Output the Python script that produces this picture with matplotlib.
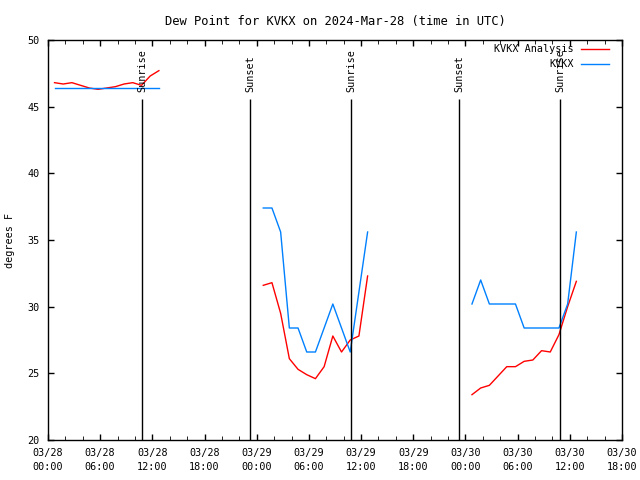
import matplotlib
matplotlib.use('Agg')
import matplotlib.pyplot as plt
import matplotlib.dates as mdates
from datetime import datetime, timedelta

# Start of each analysis/observation block (UTC), hourly values after that
seg_starts = ['2024-03-28 00:45', '2024-03-29 00:45', '2024-03-30 00:45']

# KVKX Analysis dew point (F)
analysis = [
    [46.8, 46.7, 46.8, 46.6, 46.4, 46.3, 46.4, 46.5, 46.7, 46.8, 46.6, 47.3, 47.7],
    [31.6, 31.8, 29.5, 26.1, 25.3, 24.9, 24.6, 25.5, 27.8, 26.6, 27.5, 27.8, 32.3],
    [23.4, 23.9, 24.1, 24.8, 25.5, 25.5, 25.9, 26.0, 26.7, 26.6, 27.9, 30.0, 31.9],
]

# KVKX observed dew point (F); None = no ob that hour
observed = [
    [46.4, 46.4, 46.4, 46.4, 46.4, 46.4, 46.4, 46.4, 46.4, 46.4, 46.4, 46.4, 46.4],
    [37.4, 37.4, 35.6, 28.4, 28.4, 26.6, 26.6, 28.4, 30.2, 28.4, 26.6, None, 35.6],
    [30.2, 32.0, 30.2, 30.2, 30.2, 30.2, 28.4, 28.4, 28.4, 28.4, 28.4, 30.2, 35.6],
]

# Sun events (UTC)
sun_times = ['2024-03-28 10:49', '2024-03-28 23:14', '2024-03-29 10:50',
             '2024-03-29 23:16', '2024-03-30 10:52']
sun_labels = ['Sunrise', 'Sunset', 'Sunrise', 'Sunset', 'Sunrise']

series_names = ['KVKX Analysis', 'KVKX']
series_colors = ['#ff0000', '#0080ff']

plt.rcParams['font.family'] = 'DejaVu Sans Mono'
plt.rcParams['font.size'] = 7.3

fig = plt.figure(figsize=(6.4, 4.8), dpi=100)
ax = fig.add_axes([48 / 640, 40 / 480, 574 / 640, 400 / 480])

fmt = '%Y-%m-%d %H:%M'
for i, start in enumerate(seg_starts):
    t0 = datetime.strptime(start, fmt)
    ta = [t0 + timedelta(hours=k) for k in range(len(analysis[i]))]
    ax.plot(ta, analysis[i], color=series_colors[0], lw=1)
    pts = [(t0 + timedelta(hours=k), v) for k, v in enumerate(observed[i]) if v is not None]
    ax.plot([p[0] for p in pts], [p[1] for p in pts], color=series_colors[1], lw=1)

for st, lab in zip(sun_times, sun_labels):
    t = datetime.strptime(st, fmt)
    ax.vlines(t, 20, 45.6, color='black', lw=1)
    ax.text(t, 46.1, lab, rotation=90, ha='center', va='bottom')

ax.set_xlim(datetime(2024, 3, 28), datetime(2024, 3, 30, 18))
ax.set_ylim(20, 50)
ax.set_yticks(range(20, 51, 5))
ax.xaxis.set_major_locator(mdates.HourLocator(byhour=range(0, 24, 6)))
ax.xaxis.set_minor_locator(mdates.HourLocator(byhour=range(0, 24, 2)))
ax.xaxis.set_major_formatter(mdates.DateFormatter('%m/%d\n%H:%M'))
ax.tick_params(which='major', direction='in', length=4, width=1,
               top=True, right=True, pad=6)
ax.tick_params(axis='x', which='minor', direction='in', length=3, top=True)
for lab in ax.get_xticklabels():
    lab.set_linespacing(1.5)
for s in ax.spines.values():
    s.set_linewidth(1)

ax.set_title('Dew Point for KVKX on 2024-Mar-28 (time in UTC)', pad=11)
ax.set_ylabel('degrees F', labelpad=9)

# gnuplot-style key: right-aligned text, line sample to the right
for j, (name, col) in enumerate(zip(series_names, series_colors)):
    yk = 0.977 - j * 0.0375
    ax.text(0.9165, yk, name, transform=ax.transAxes, ha='right', va='center')
    ax.plot([0.928, 0.977], [yk, yk], transform=ax.transAxes, color=col, lw=1)

fig.savefig('out.png', dpi=100)
